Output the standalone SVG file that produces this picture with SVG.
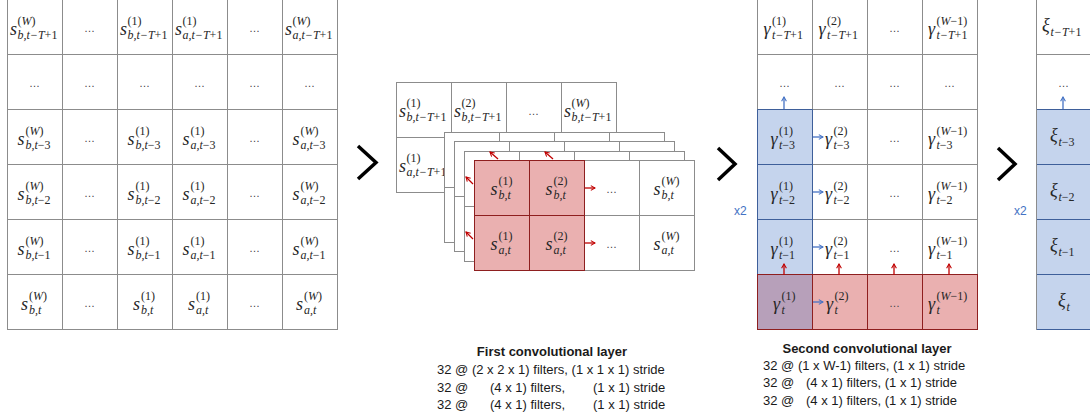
<svg xmlns="http://www.w3.org/2000/svg" width="1090" height="419" viewBox="0 0 1090 419">
<defs>
<style>
.cell{fill:#fff;stroke:#8c8c8c;stroke-width:1}
.gl{fill:none;stroke:#8c8c8c;stroke-width:1}
.m{font-family:"Liberation Serif","DejaVu Serif",serif;font-style:italic;font-size:18px;fill:#262626}
.s{font-size:12px}
.up{font-style:normal}
.it{font-style:italic}
.dots{font-family:"Liberation Sans",sans-serif;font-size:11px;fill:#444;text-anchor:middle}
.lbl{font-family:"Liberation Sans",sans-serif;font-size:13px;fill:#1a1a1a}
.ttl{font-weight:bold;text-anchor:middle}
.x2{font-family:"Liberation Sans",sans-serif;font-size:12px;fill:#4472c4}
.chev{fill:none;stroke:#000;stroke-width:3.5}
.ared{stroke:#c00000;stroke-width:1.3;fill:none;marker-end:url(#hr)}
.ablu{stroke:#4472c4;stroke-width:1.3;fill:none;marker-end:url(#hb)}
.redfill{fill:#eab0b0}
.bluefill{fill:#c5d4ed}
.redb{fill:none;stroke:#8e1f1f;stroke-width:1}
.blub{fill:none;stroke:#3e5f9a;stroke-width:1}
</style>
<marker id="hr" viewBox="0 0 10 10" refX="8" refY="5" markerWidth="6" markerHeight="6" orient="auto" markerUnits="userSpaceOnUse">
<path d="M1,1 L8,5 L1,9" fill="none" stroke="#c00000" stroke-width="1.8"/>
</marker>
<marker id="hb" viewBox="0 0 10 10" refX="8" refY="5" markerWidth="6" markerHeight="6" orient="auto" markerUnits="userSpaceOnUse">
<path d="M1,1 L8,5 L1,9" fill="none" stroke="#4472c4" stroke-width="1.8"/>
</marker>
</defs>
<rect x="0" y="0" width="1090" height="419" fill="#fff"/>

<g id="input-grid">
<rect class="cell" x="7.5" y="-0.5" width="330" height="330"/>
<path class="gl" d="M62.5,-1V330M117.5,-1V330M172.5,-1V330M227.5,-1V330M282.5,-1V330M7,54.5H338M7,109.5H338M7,164.5H338M7,219.5H338M7,274.5H338"/>
<text class="m" x="10" y="35">s<tspan class="s up" x="17.5" y="25">(<tspan class="it">W</tspan>)</tspan><tspan class="s" x="17.5" y="39">b,t−T<tspan class="up">+1</tspan></tspan></text>
<text class="dots" x="89.5" y="32">…</text>
<text class="m" x="120" y="35">s<tspan class="s up" x="127.5" y="25">(1)</tspan><tspan class="s" x="127.5" y="39">b,t−T<tspan class="up">+1</tspan></tspan></text>
<text class="m" x="175" y="35">s<tspan class="s up" x="182.5" y="25">(1)</tspan><tspan class="s" x="182.5" y="39">a,t−T<tspan class="up">+1</tspan></tspan></text>
<text class="dots" x="254.5" y="32">…</text>
<text class="m" x="285" y="35">s<tspan class="s up" x="292.5" y="25">(<tspan class="it">W</tspan>)</tspan><tspan class="s" x="292.5" y="39">a,t−T<tspan class="up">+1</tspan></tspan></text>

<text class="dots" x="34.5" y="87">…</text>
<text class="dots" x="89.5" y="87">…</text>
<text class="dots" x="144.5" y="87">…</text>
<text class="dots" x="199.5" y="87">…</text>
<text class="dots" x="254.5" y="87">…</text>
<text class="dots" x="309.5" y="87">…</text>

<text class="m" x="17.5" y="145">s<tspan class="s up" x="25.5" y="135">(<tspan class="it">W</tspan>)</tspan><tspan class="s" x="25.5" y="149">b,t<tspan class="up">−3</tspan></tspan></text>
<text class="dots" x="89.5" y="142">…</text>
<text class="m" x="127.5" y="145">s<tspan class="s up" x="135.5" y="135">(1)</tspan><tspan class="s" x="135.5" y="149">b,t<tspan class="up">−3</tspan></tspan></text>
<text class="m" x="182.5" y="145">s<tspan class="s up" x="190.5" y="135">(1)</tspan><tspan class="s" x="190.5" y="149">a,t<tspan class="up">−3</tspan></tspan></text>
<text class="dots" x="254.5" y="142">…</text>
<text class="m" x="292.5" y="145">s<tspan class="s up" x="300.5" y="135">(<tspan class="it">W</tspan>)</tspan><tspan class="s" x="300.5" y="149">a,t<tspan class="up">−3</tspan></tspan></text>

<text class="m" x="17.5" y="200">s<tspan class="s up" x="25.5" y="190">(<tspan class="it">W</tspan>)</tspan><tspan class="s" x="25.5" y="204">b,t<tspan class="up">−2</tspan></tspan></text>
<text class="dots" x="89.5" y="197">…</text>
<text class="m" x="127.5" y="200">s<tspan class="s up" x="135.5" y="190">(1)</tspan><tspan class="s" x="135.5" y="204">b,t<tspan class="up">−2</tspan></tspan></text>
<text class="m" x="182.5" y="200">s<tspan class="s up" x="190.5" y="190">(1)</tspan><tspan class="s" x="190.5" y="204">a,t<tspan class="up">−2</tspan></tspan></text>
<text class="dots" x="254.5" y="197">…</text>
<text class="m" x="292.5" y="200">s<tspan class="s up" x="300.5" y="190">(<tspan class="it">W</tspan>)</tspan><tspan class="s" x="300.5" y="204">a,t<tspan class="up">−2</tspan></tspan></text>

<text class="m" x="17.5" y="255">s<tspan class="s up" x="25.5" y="245">(<tspan class="it">W</tspan>)</tspan><tspan class="s" x="25.5" y="259">b,t<tspan class="up">−1</tspan></tspan></text>
<text class="dots" x="89.5" y="252">…</text>
<text class="m" x="127.5" y="255">s<tspan class="s up" x="135.5" y="245">(1)</tspan><tspan class="s" x="135.5" y="259">b,t<tspan class="up">−1</tspan></tspan></text>
<text class="m" x="182.5" y="255">s<tspan class="s up" x="190.5" y="245">(1)</tspan><tspan class="s" x="190.5" y="259">a,t<tspan class="up">−1</tspan></tspan></text>
<text class="dots" x="254.5" y="252">…</text>
<text class="m" x="292.5" y="255">s<tspan class="s up" x="300.5" y="245">(<tspan class="it">W</tspan>)</tspan><tspan class="s" x="300.5" y="259">a,t<tspan class="up">−1</tspan></tspan></text>

<text class="m" x="21" y="310">s<tspan class="s up" x="29" y="300">(<tspan class="it">W</tspan>)</tspan><tspan class="s" x="29" y="314">b,t</tspan></text>
<text class="dots" x="89.5" y="307">…</text>
<text class="m" x="133" y="310">s<tspan class="s up" x="141" y="300">(1)</tspan><tspan class="s" x="141" y="314">b,t</tspan></text>
<text class="m" x="188" y="310">s<tspan class="s up" x="196" y="300">(1)</tspan><tspan class="s" x="196" y="314">a,t</tspan></text>
<text class="dots" x="254.5" y="307">…</text>
<text class="m" x="296" y="310">s<tspan class="s up" x="304" y="300">(<tspan class="it">W</tspan>)</tspan><tspan class="s" x="304" y="314">a,t</tspan></text>
</g>

<g id="conv1-input-back">
<rect class="cell" x="396.5" y="82.5" width="220" height="110"/>
<path class="gl" d="M451.5,82V193M506.5,82V193M561.5,82V193M396,137.5H617"/>
<text class="m" x="399" y="117">s<tspan class="s up" x="406.5" y="107">(1)</tspan><tspan class="s" x="406.5" y="121">b,t−T<tspan class="up">+1</tspan></tspan></text>
<text class="m" x="454" y="117">s<tspan class="s up" x="461.5" y="107">(2)</tspan><tspan class="s" x="461.5" y="121">b,t−T<tspan class="up">+1</tspan></tspan></text>
<text class="dots" x="533.5" y="115">…</text>
<text class="m" x="564" y="117">s<tspan class="s up" x="571.5" y="107">(<tspan class="it">W</tspan>)</tspan><tspan class="s" x="571.5" y="121">b,t−T<tspan class="up">+1</tspan></tspan></text>
<text class="m" x="399" y="172">s<tspan class="s up" x="406.5" y="162">(1)</tspan><tspan class="s" x="406.5" y="176">a,t−T<tspan class="up">+1</tspan></tspan></text>
</g>

<g id="conv1-layer2">
<rect class="cell" x="444.5" y="132.5" width="220" height="110"/>
<path class="gl" d="M499.5,132V243M554.5,132V243M609.5,132V243M444,187.5H665"/>
</g>
<g id="conv1-layer3">
<rect class="cell" x="454.5" y="141.5" width="220" height="110"/>
<path class="gl" d="M509.5,141V252M564.5,141V252M619.5,141V252M454,196.5H675"/>
</g>
<g id="conv1-layer4">
<rect class="cell" x="464.5" y="151.5" width="220" height="110"/>
<path class="gl" d="M519.5,151V262M574.5,151V262M629.5,151V262M464,206.5H685"/>
</g>
<g id="conv1-front">
<rect class="cell" x="474.5" y="160.5" width="220" height="110"/>
<path class="gl" d="M639.5,160V271M584,215.5H695"/>
<rect class="redfill" x="474.5" y="160.5" width="110" height="110"/>
<rect class="redb" x="474.5" y="160.5" width="110" height="110"/>
<path class="redb" d="M529.5,160V271M474,215.5H585"/>
<text class="m" x="490.5" y="195">s<tspan class="s up" x="498.5" y="185">(1)</tspan><tspan class="s" x="498.5" y="199">b,t</tspan></text>
<text class="m" x="545.5" y="195">s<tspan class="s up" x="553.5" y="185">(2)</tspan><tspan class="s" x="553.5" y="199">b,t</tspan></text>
<text class="dots" x="611.5" y="193">…</text>
<text class="m" x="653.5" y="195">s<tspan class="s up" x="661.5" y="185">(<tspan class="it">W</tspan>)</tspan><tspan class="s" x="661.5" y="199">b,t</tspan></text>
<text class="m" x="490.5" y="250">s<tspan class="s up" x="498.5" y="240">(1)</tspan><tspan class="s" x="498.5" y="254">a,t</tspan></text>
<text class="m" x="545.5" y="250">s<tspan class="s up" x="553.5" y="240">(2)</tspan><tspan class="s" x="553.5" y="254">a,t</tspan></text>
<text class="dots" x="611.5" y="248">…</text>
<text class="m" x="653.5" y="250">s<tspan class="s up" x="661.5" y="240">(<tspan class="it">W</tspan>)</tspan><tspan class="s" x="661.5" y="254">a,t</tspan></text>
</g>

<g id="conv2-grid">
<rect class="cell" x="757.5" y="-0.5" width="220" height="330"/>
<rect class="bluefill" x="757.5" y="109.5" width="55" height="165"/>
<rect class="redfill" x="757.5" y="274.5" width="220" height="55"/>
<rect x="757.5" y="274.5" width="55" height="55" fill="#b7a0ba"/>
<path class="gl" d="M812.5,-1V275M867.5,-1V275M922.5,-1V275M757,54.5H978M757,109.5H978M812,164.5H978M812,219.5H978"/>
<path class="blub" d="M757.5,109.5H812.5V274.5M757.5,164.5H812.5M757.5,219.5H812.5M757.5,109.5V274.5"/>
<rect class="redb" x="757.5" y="274.5" width="220" height="55"/>
<path class="redb" d="M812.5,274V330M867.5,274V330M922.5,274V330"/>
<text class="m" x="763.5" y="35">γ<tspan class="s up" x="772" y="25">(1)</tspan><tspan class="s" x="772" y="39">t−T<tspan class="up">+1</tspan></tspan></text>
<text class="m" x="818.5" y="35">γ<tspan class="s up" x="827" y="25">(2)</tspan><tspan class="s" x="827" y="39">t−T<tspan class="up">+1</tspan></tspan></text>
<text class="dots" x="894.5" y="32">…</text>
<text class="m" x="928" y="35">γ<tspan class="s up" x="936.5" y="25">(<tspan class="it">W</tspan>−1)</tspan><tspan class="s" x="936.5" y="39">t−T<tspan class="up">+1</tspan></tspan></text>
<text class="dots" x="784.5" y="87">…</text>
<text class="dots" x="839.5" y="87">…</text>
<text class="dots" x="894.5" y="87">…</text>
<text class="dots" x="949.5" y="87">…</text>
<text class="m" x="770.5" y="145">γ<tspan class="s up" x="779" y="135">(1)</tspan><tspan class="s" x="779" y="149">t<tspan class="up">−3</tspan></tspan></text>
<text class="m" x="825" y="145">γ<tspan class="s up" x="833.5" y="135">(2)</tspan><tspan class="s" x="833.5" y="149">t<tspan class="up">−3</tspan></tspan></text>
<text class="dots" x="894.5" y="142">…</text>
<text class="m" x="928" y="145">γ<tspan class="s up" x="936.5" y="135">(<tspan class="it">W</tspan>−1)</tspan><tspan class="s" x="936.5" y="149">t<tspan class="up">−3</tspan></tspan></text>
<text class="m" x="770.5" y="200">γ<tspan class="s up" x="779" y="190">(1)</tspan><tspan class="s" x="779" y="204">t<tspan class="up">−2</tspan></tspan></text>
<text class="m" x="825" y="200">γ<tspan class="s up" x="833.5" y="190">(2)</tspan><tspan class="s" x="833.5" y="204">t<tspan class="up">−2</tspan></tspan></text>
<text class="dots" x="894.5" y="197">…</text>
<text class="m" x="928" y="200">γ<tspan class="s up" x="936.5" y="190">(<tspan class="it">W</tspan>−1)</tspan><tspan class="s" x="936.5" y="204">t<tspan class="up">−2</tspan></tspan></text>
<text class="m" x="770.5" y="255">γ<tspan class="s up" x="779" y="245">(1)</tspan><tspan class="s" x="779" y="259">t<tspan class="up">−1</tspan></tspan></text>
<text class="m" x="825" y="255">γ<tspan class="s up" x="833.5" y="245">(2)</tspan><tspan class="s" x="833.5" y="259">t<tspan class="up">−1</tspan></tspan></text>
<text class="dots" x="894.5" y="252">…</text>
<text class="m" x="928" y="255">γ<tspan class="s up" x="936.5" y="245">(<tspan class="it">W</tspan>−1)</tspan><tspan class="s" x="936.5" y="259">t<tspan class="up">−1</tspan></tspan></text>
<text class="m" x="773" y="310">γ<tspan class="s up" x="781.5" y="300">(1)</tspan><tspan class="s" x="781.5" y="314">t</tspan></text>
<text class="m" x="826" y="310">γ<tspan class="s up" x="834.5" y="300">(2)</tspan><tspan class="s" x="834.5" y="314">t</tspan></text>
<text class="dots" x="894.5" y="307">…</text>
<text class="m" x="928" y="310">γ<tspan class="s up" x="936.5" y="300">(<tspan class="it">W</tspan>−1)</tspan><tspan class="s" x="936.5" y="314">t</tspan></text>
</g>

<g id="output-column">
<rect class="cell" x="1036.5" y="-0.5" width="54" height="330"/>
<rect class="bluefill" x="1036.5" y="109.5" width="54" height="220"/>
<path class="gl" d="M1036,54.5H1091"/>
<path class="blub" d="M1036,109.5H1091M1036,164.5H1091M1036,219.5H1091M1036,274.5H1091M1036,329.5H1091"/>
<path class="gl" d="M1036.5,-1V330"/>
<text class="m" x="1042" y="31">ξ<tspan class="s" x="1050.5" y="36">t−T<tspan class="up">+1</tspan></tspan></text>
<text class="dots" x="1063.5" y="87">…</text>
<text class="m" x="1050" y="141">ξ<tspan class="s" x="1058.5" y="146">t<tspan class="up">−3</tspan></tspan></text>
<text class="m" x="1050" y="196">ξ<tspan class="s" x="1058.5" y="201">t<tspan class="up">−2</tspan></tspan></text>
<text class="m" x="1050" y="251">ξ<tspan class="s" x="1058.5" y="256">t<tspan class="up">−1</tspan></tspan></text>
<text class="m" x="1058" y="306">ξ<tspan class="s" x="1066.5" y="311">t</tspan></text>
</g>

<g id="transitions">
<polyline class="chev" points="358,146 376,162.5 358,179"/>
<polyline class="chev" points="718,148 735,164 718,180"/>
<polyline class="chev" points="998,148 1015,164 998,180"/>
<text class="x2" x="734" y="215">x2</text>
<text class="x2" x="1014" y="215">x2</text>
</g>

<g id="connectors">
<line class="ared" x1="498" y1="159" x2="490" y2="152"/>
<line class="ared" x1="553" y1="159" x2="545" y2="152"/>
<line class="ared" x1="473" y1="184" x2="466" y2="177"/>
<line class="ared" x1="473" y1="239" x2="466" y2="232"/>
<line class="ared" x1="585" y1="188" x2="595" y2="188"/>
<line class="ared" x1="585" y1="243" x2="595" y2="243"/>
<line class="ared" x1="784" y1="275" x2="784" y2="264"/>
<line class="ared" x1="839" y1="275" x2="839" y2="264"/>
<line class="ared" x1="894" y1="275" x2="894" y2="264"/>
<line class="ared" x1="949" y1="275" x2="949" y2="264"/>
<line class="ablu" x1="784" y1="109" x2="784" y2="97"/>
<line class="ablu" x1="1063" y1="109" x2="1063" y2="97"/>
<line class="ablu" x1="813" y1="137" x2="823" y2="137"/>
<line class="ablu" x1="813" y1="192" x2="823" y2="192"/>
<line class="ablu" x1="813" y1="247" x2="823" y2="247"/>
<line class="ablu" x1="813" y1="302" x2="823" y2="302"/>
</g>

<g id="labels">
<text class="lbl ttl" x="552" y="356">First convolutional layer</text>
<text class="lbl" x="437" y="374">32 @ (2 x 2 x 1) filters, (1 x 1 x 1) stride</text>
<text class="lbl" x="437" y="392">32 @</text>
<text class="lbl" x="490" y="392">(4 x 1) filters,</text>
<text class="lbl" x="593" y="392">(1 x 1) stride</text>
<text class="lbl" x="437" y="409">32 @</text>
<text class="lbl" x="490" y="409">(4 x 1) filters,</text>
<text class="lbl" x="593" y="409">(1 x 1) stride</text>
<text class="lbl ttl" x="867" y="353">Second convolutional layer</text>
<text class="lbl" x="763" y="370">32 @ (1 x W-1) filters, (1 x 1) stride</text>
<text class="lbl" x="763" y="387">32 @</text>
<text class="lbl" x="806" y="387">(4 x 1) filters, (1 x 1) stride</text>
<text class="lbl" x="763" y="405">32 @</text>
<text class="lbl" x="806" y="405">(4 x 1) filters, (1 x 1) stride</text>
</g>
</svg>
